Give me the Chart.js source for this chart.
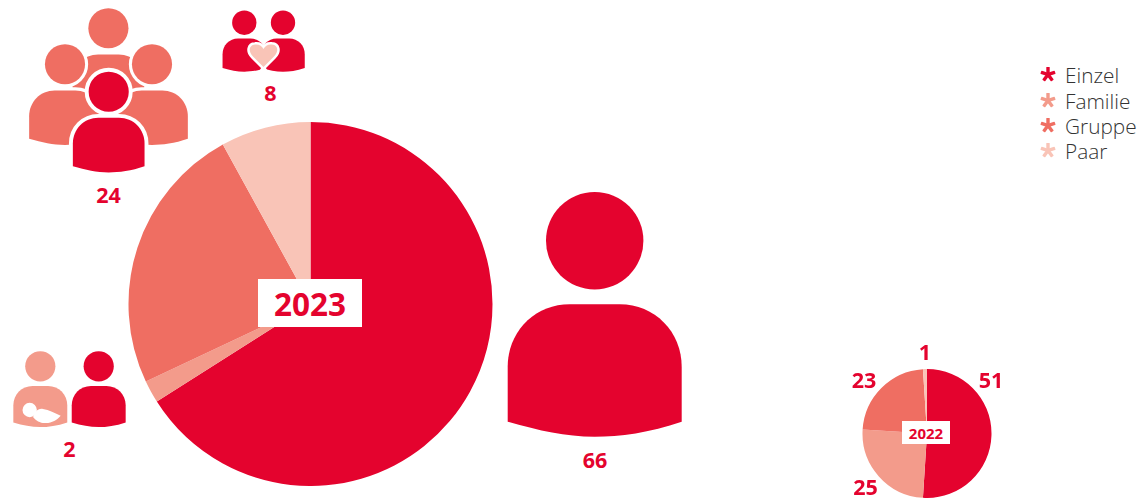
<!DOCTYPE html>
<html lang="de">
<head>
<meta charset="utf-8">
<title>Beratungen nach Setting</title>
<script src="https://cdn.jsdelivr.net/npm/chart.js@4"></script>
<style>
  html, body { margin: 0; padding: 0; background: #fff; }
  #stage { position: relative; width: 1143px; height: 498px; overflow: hidden; font-family: "Open Sans", sans-serif; }
  canvas { position: absolute; display: block; }
  #icons { position: absolute; left: 0; top: 0; }
  .value { position: absolute; transform: translate(-50%, -50%); font-weight: 700; font-size: 21.5px; line-height: 1; color: #E4032E; white-space: nowrap; }
  .year { position: absolute; display: flex; align-items: center; justify-content: center; background: #fff; color: #E4032E; font-weight: 700; }
  .legend-row { position: absolute; left: 1036px; height: 26px; display: flex; align-items: center; font-size: 20.8px; font-weight: 300; color: #333; }
  .legend-row svg { width: 24px; height: 24px; margin-right: 5px; flex: none; }
</style>
</head>
<body>
<div id="stage">
  <svg id="icons" width="1143" height="498" viewBox="0 0 1143 498" xmlns="http://www.w3.org/2000/svg">
    <defs>
      <g id="person">
        <circle cx="0" cy="0" r="48.7"/>
        <path d="M-87 181 V126 C-87 91 -60 63.5 -25 63.5 H25 C60 63.5 87 91 87 126 V181 C55 192 25 196 0 196 C-30 196 -55 190 -87 181 Z"/>
      </g>
    </defs>

    <!-- Einzel -->
    <use href="#person" transform="translate(594.7 240.7)" fill="#E4032E"/>

    <!-- Gruppe -->
    <g fill="#EF6E62">
      <use href="#person" transform="translate(108.4 28.3) scale(0.412)"/>
      <g stroke="#fff" stroke-width="15" paint-order="stroke">
        <use href="#person" transform="translate(65 64.3) scale(0.412)"/>
        <use href="#person" transform="translate(152 64.3) scale(0.412)"/>
      </g>
    </g>
    <use href="#person" transform="translate(108.7 91.7) scale(0.412)" fill="#E4032E" stroke="#fff" stroke-width="19" paint-order="stroke"/>

    <!-- Paar -->
    <g fill="#E4032E">
      <use href="#person" transform="translate(244.3 22.7) scale(0.25)"/>
      <use href="#person" transform="translate(283 22.7) scale(0.25)"/>
    </g>
    <path d="M263.5 64 L257.5 74 H269.5 Z" fill="#fff"/>
    <path d="M263.5 67 L253 56.5 C247.5 51 249.5 45 255 44.5 C259 44 262 46 263.5 49 C265 46 268 44 272 44.5 C277.5 45 279.5 51 274 56.5 Z"
          fill="#F9C4B7" stroke="#fff" stroke-width="5" stroke-linejoin="round" paint-order="stroke"/>

    <!-- Familie -->
    <use href="#person" transform="translate(40.3 366.3) scale(0.31)" fill="#F39B8B"/>
    <use href="#person" transform="translate(98.7 366.3) scale(0.31)" fill="#E4032E"/>
    <g fill="#fff">
      <circle cx="29.7" cy="410" r="7.2"/>
      <path d="M36 411.5 C38 409.5 40 408.5 43 409 C49 410 55 413 60.7 415.7 C57 420 52 423 46 423 C41 423.5 36 421 33 417 Z"/>
    </g>
  </svg>
  <canvas id="pie2023"></canvas>
  <canvas id="pie2022"></canvas>
</div>
<script>
  // Settings and consultation counts per year
  const categories = ["Einzel", "Familie", "Gruppe", "Paar"];
  const values2023 = [66, 2, 24, 8];
  const values2022 = [51, 25, 23, 1];
  const sliceColors = ["#E4032E", "#F39B8B", "#EF6E62", "#F9C4B7"];

  const stage = document.getElementById("stage");

  function drawPie(id, values, left, top, width, height) {
    const canvas = document.getElementById(id);
    canvas.style.left = left + "px";
    canvas.style.top = top + "px";
    canvas.width = width;
    canvas.height = height;
    return new Chart(canvas, {
      type: "pie",
      data: {
        labels: categories,
        datasets: [{ data: values, backgroundColor: sliceColors, borderWidth: 0 }]
      },
      options: {
        responsive: false,
        animation: false,
        layout: { padding: 0 },
        plugins: { legend: { display: false }, tooltip: { enabled: false } }
      }
    });
  }

  drawPie("pie2023", values2023, 128, 122, 365, 364);
  drawPie("pie2022", values2022, 862, 369, 130, 129);

  // Counts beside the icons and around the small pie
  function addValue(value, x, y) {
    const el = document.createElement("div");
    el.className = "value";
    el.textContent = String(value);
    el.style.left = x + "px";
    el.style.top = y + "px";
    stage.appendChild(el);
  }
  addValue(values2023[0], 595, 460);
  addValue(values2023[1], 69.5, 449);
  addValue(values2023[2], 108.5, 195);
  addValue(values2023[3], 270.5, 93);
  addValue(values2022[0], 991, 380);
  addValue(values2022[1], 865.5, 487);
  addValue(values2022[2], 864, 380);
  addValue(values2022[3], 925, 352);

  // Year tags in the middle of each pie
  function addYear(text, left, top, width, height, fontSize) {
    const el = document.createElement("div");
    el.className = "year";
    el.textContent = text;
    el.style.cssText += `left:${left}px;top:${top}px;width:${width}px;height:${height}px;font-size:${fontSize}px;`;
    stage.appendChild(el);
  }
  addYear("2023", 258, 279, 104, 48, 31.5);
  addYear("2022", 902, 421, 48, 23, 15);

  // Legend with five-armed markers
  const legendRows = [75, 101, 126, 151];
  categories.forEach((name, i) => {
    const row = document.createElement("div");
    row.className = "legend-row";
    row.style.top = (legendRows[i] - 13) + "px";
    const arms = [0, 72, 144, 216, 288].map(a =>
      `<rect x="10.3" y="4" width="3.4" height="8.5" rx="0.6" transform="rotate(${a} 12 11.5)"/>`
    ).join("");
    row.innerHTML = `<svg viewBox="0 0 24 24" fill="${sliceColors[i]}">${arms}</svg><span>${name}</span>`;
    stage.appendChild(row);
  });
</script>
</body>
</html>
